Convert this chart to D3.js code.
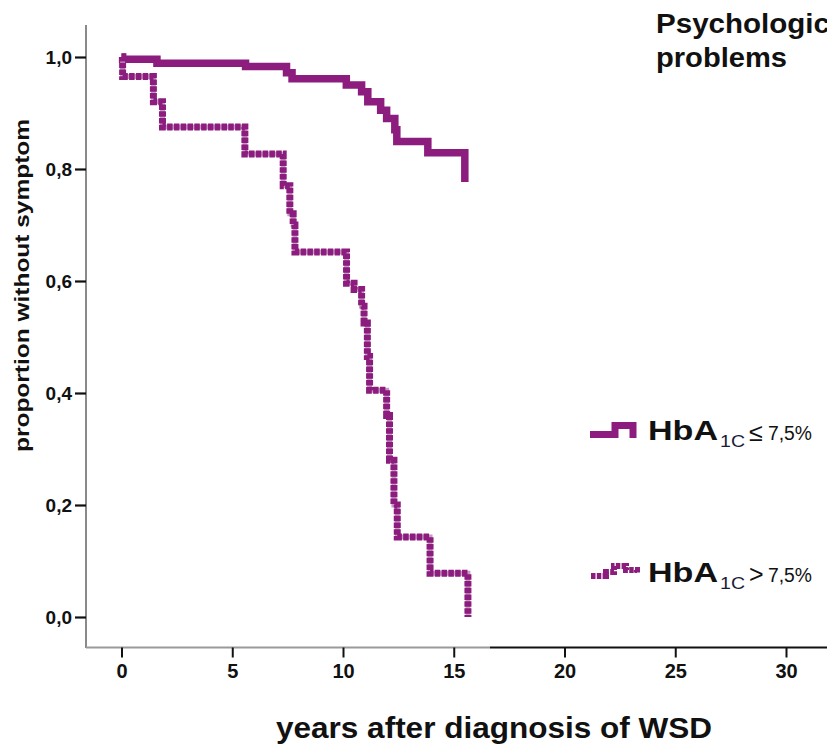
<!DOCTYPE html>
<html>
<head>
<meta charset="utf-8">
<script src="https://cdn.jsdelivr.net/npm/d3@7/dist/d3.min.js"></script>
<style>
  html, body { margin: 0; padding: 0; background: #fff; }
  svg { display: block; font-family: "Liberation Sans", Arial, Helvetica, sans-serif; }
</style>
</head>
<body>
<svg id="chart" width="827" height="748"></svg>
<script>
// ---- data ----
const xTicks = [0, 5, 10, 15, 20, 25, 30];
const yTicks = [0, 0.2, 0.4, 0.6, 0.8, 1.0];
const yTickLabels = ["0,0", "0,2", "0,4", "0,6", "0,8", "1,0"];

// HbA1c <= 7.5%  (solid)
const lowTimes  = [0, 0.05, 1.6, 5.6, 7.45, 7.7, 10.15, 10.84, 11.12, 11.7, 11.97, 12.34, 12.43, 13.83, 15.5];
const lowValues = [1.0, 0.996, 0.989, 0.983, 0.972, 0.961, 0.95, 0.938, 0.92, 0.905, 0.89, 0.87, 0.849, 0.829, 0.777];

// HbA1c > 7.5%  (dotted)
const highTimes  = [0, 0.05, 1.44, 1.85, 5.57, 7.3, 7.6, 7.75, 7.83, 10.16, 10.5, 10.84, 10.95, 11.1, 11.2, 11.97, 12.1, 12.3, 12.45, 13.93, 15.64];
const highValues = [1.0, 0.965, 0.92, 0.875, 0.827, 0.77, 0.72, 0.70, 0.652, 0.596, 0.585, 0.555, 0.525, 0.465, 0.405, 0.36, 0.28, 0.2, 0.143, 0.078, 0.0];

const titleLines = ["Psychologic", "problems"];
const xTitle = "years after diagnosis of WSD";
const yTitle = "proportion without symptom";

// ---- chart ----
const purple = "#8C1D7E";
const svg = d3.select("#chart");

const x = d3.scaleLinear().domain([0, 30]).range([121.5, 786]);
const y = d3.scaleLinear().domain([0, 1]).range([617, 57]);

// axis lines
svg.append("line").attr("x1", 86).attr("x2", 86).attr("y1", 25).attr("y2", 648)
  .attr("stroke", "#8a8a8a").attr("stroke-width", 2);
svg.append("line").attr("x1", 86).attr("x2", 490).attr("y1", 647.5).attr("y2", 647.5)
  .attr("stroke", "#9a9a9a").attr("stroke-width", 2.2);
svg.append("line").attr("x1", 490).attr("x2", 827).attr("y1", 647.5).attr("y2", 647.5)
  .attr("stroke", "#111").attr("stroke-width", 2.2);

// x axis
const xAxis = svg.append("g").attr("transform", "translate(0,647.5)")
  .call(d3.axisBottom(x).tickValues(xTicks).tickSize(10).tickPadding(6).tickFormat(d => String(d)));
xAxis.select(".domain").remove();
xAxis.selectAll(".tick line").attr("stroke", "#111").attr("stroke-width", 2);
xAxis.selectAll(".tick text").attr("fill", "#111").attr("font-size", 20).attr("font-weight", "bold")
  .attr("font-family", "'Liberation Sans Narrow', 'Liberation Sans', Arial, sans-serif");

// y axis
const yAxis = svg.append("g").attr("transform", "translate(86,0)")
  .call(d3.axisLeft(y).tickValues(yTicks).tickSize(11).tickPadding(3).tickFormat((d, i) => yTickLabels[i]));
yAxis.select(".domain").remove();
yAxis.selectAll(".tick line").attr("stroke", "#111").attr("stroke-width", 2.2);
yAxis.selectAll(".tick text").attr("fill", "#111").attr("font-size", 19).attr("font-weight", "bold")
  .attr("font-family", "'Liberation Sans Narrow', 'Liberation Sans', Arial, sans-serif");

// curves
const line = d3.line().x(d => x(d[0])).y(d => y(d[1])).curve(d3.curveStepAfter);
const lowData = lowTimes.map((t, i) => [t, lowValues[i]]);
const highData = highTimes.map((t, i) => [t, highValues[i]]);

svg.append("path").datum(lowData).attr("d", line)
  .attr("fill", "none").attr("stroke", purple).attr("stroke-width", 7.5)
  .attr("stroke-linejoin", "miter");
svg.append("path").datum(highData).attr("d", line)
  .attr("fill", "none").attr("stroke", "#c79bc2").attr("stroke-width", 5)
  .attr("stroke-linejoin", "miter");
svg.append("path").datum(highData).attr("d", line)
  .attr("fill", "none").attr("stroke", purple).attr("stroke-width", 7)
  .attr("stroke-dasharray", "5.5,1.3").attr("stroke-linejoin", "miter");

// titles
const title = svg.append("text").attr("font-weight", "bold").attr("font-size", 27).attr("fill", "#111");
title.append("tspan").attr("x", 656).attr("y", 33).attr("textLength", 174).attr("lengthAdjust", "spacingAndGlyphs").text(titleLines[0]);
title.append("tspan").attr("x", 656).attr("y", 67).attr("textLength", 131).attr("lengthAdjust", "spacingAndGlyphs").text(titleLines[1]);

svg.append("text").attr("x", 276).attr("y", 738).attr("font-weight", "bold").attr("font-size", 29)
  .attr("fill", "#111").attr("textLength", 436).attr("lengthAdjust", "spacingAndGlyphs").text(xTitle);

svg.append("text").attr("transform", "translate(29,452) rotate(-90)").attr("font-weight", "bold")
  .attr("font-size", 21).attr("fill", "#111").attr("textLength", 333).attr("lengthAdjust", "spacingAndGlyphs")
  .text(yTitle);

// legend
const legend = [
  { y: 440, label: "\u2264", dashed: false },
  { y: 582, label: ">", dashed: true }
];
legend.forEach(l => {
  const g = svg.append("g").attr("transform", `translate(0,${l.y})`);
  if (!l.dashed) {
    g.append("path").attr("d", "M590,-5.5 H615 V-14.5 H633 V-2")
      .attr("fill", "none").attr("stroke", purple).attr("stroke-width", 7);
  } else {
    g.append("path").attr("d", "M591,-6 H606 V-10 H614 V-16 H626 V-12 H637 V-9")
      .attr("fill", "none").attr("stroke", purple).attr("stroke-width", 6)
      .attr("stroke-dasharray", "4.5,1.3");
  }
  const t = g.append("text").attr("fill", "#111");
  t.append("tspan").attr("x", 648).attr("y", 0).attr("font-weight", "bold").attr("font-size", 28)
    .attr("textLength", 70).attr("lengthAdjust", "spacingAndGlyphs").text("HbA");
  t.append("tspan").attr("x", 720).attr("y", 7).attr("font-size", 17).attr("fill", "#1a1a3a")
    .attr("textLength", 25).attr("lengthAdjust", "spacingAndGlyphs").text("1C");
  t.append("tspan").attr("x", 749).attr("y", 1).attr("font-size", 25).text(l.label);
  t.append("tspan").attr("x", 768).attr("y", 0).attr("font-size", 20)
    .attr("textLength", 44).attr("lengthAdjust", "spacingAndGlyphs").text("7,5%");
});
</script>
</body>
</html>
